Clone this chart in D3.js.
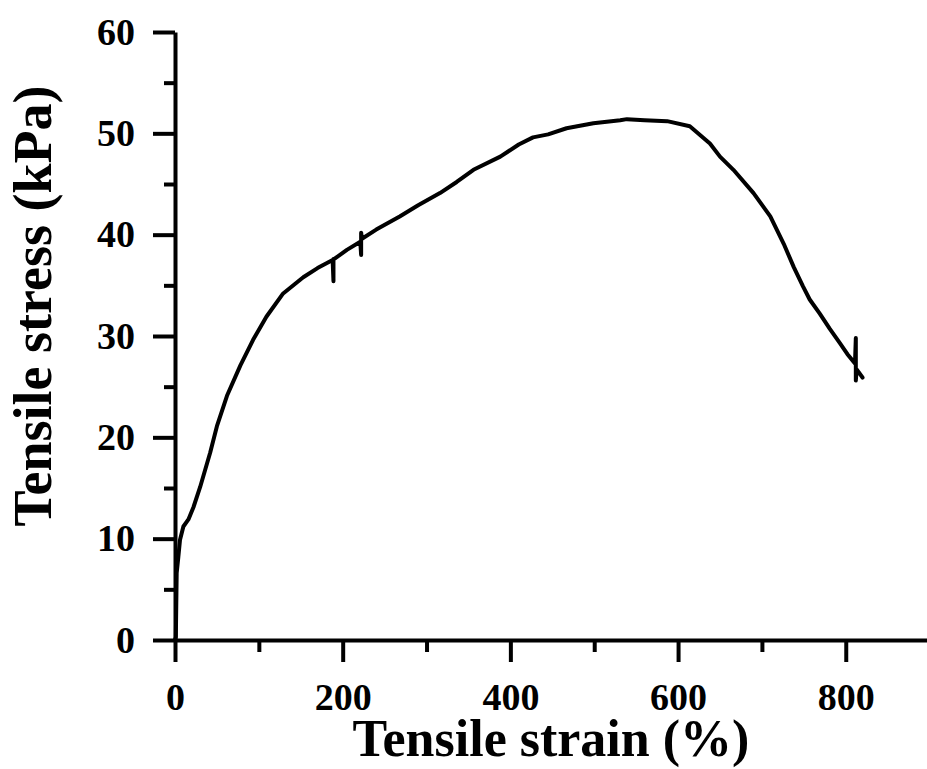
<!DOCTYPE html>
<html>
<head>
<meta charset="utf-8">
<script src="https://cdn.jsdelivr.net/npm/d3@7"></script>
<style>
  body { margin: 0; background: #fff; }
  svg { display: block; }
</style>
</head>
<body>
<svg id="chart"></svg>
<script>
// tensile test curve
const strain = [0, 1, 2, 4, 6, 10, 16, 22, 30, 42, 50, 62, 78, 93, 109, 129, 153, 170, 188, 189, 189, 190,
  205, 221, 222, 222, 223, 240, 268, 290, 316, 336, 356, 388, 410, 427, 445, 467, 499, 531, 539, 560, 587, 614,
  638, 650, 666, 690, 710, 726, 738, 749, 757, 769, 781, 793, 802, 811, 812, 812, 813, 820]
const stress = [0, 0.3, 6.6, 8.2, 9.9, 11.2, 11.9, 13.1, 15.1, 18.5, 21.1, 24.1, 27.1, 29.6, 31.9, 34.2, 35.8, 36.7, 37.5, 35.4, 37.6, 37.6,
  38.5, 39.3, 38.0, 40.2, 39.6, 40.5, 41.8, 42.9, 44.1, 45.2, 46.4, 47.7, 48.9, 49.6, 49.9, 50.5, 51.0, 51.3, 51.4, 51.3, 51.2, 50.7,
  49.0, 47.7, 46.4, 44.1, 41.8, 39.1, 36.8, 34.9, 33.6, 32.2, 30.7, 29.3, 28.2, 27.3, 29.8, 25.6, 26.7, 25.9]

const xMajor = [0, 200, 400, 600, 800]
const xMinor = [100, 300, 500, 700]
const yMajor = [0, 10, 20, 30, 40, 50, 60]
const yMinor = [5, 15, 25, 35, 45, 55]

const width = 927
const height = 769
const font = "'Liberation Serif', 'Times New Roman', serif"

const svg = d3.select("#chart")
    .attr("width", width)
    .attr("height", height);

// scales
const x = d3.scaleLinear().domain([0, 900]).range([175, 929.6]);
const y = d3.scaleLinear().domain([0, 60]).range([640, 32]);

// x axis
svg.append("g")
    .attr("transform", `translate(0, ${y(0)})`)
    .call(d3.axisBottom(x).tickValues(xMajor).tickSize(22).tickPadding(21).tickSizeOuter(0));

svg.append("g")
    .attr("transform", `translate(0, ${y(0)})`)
    .call(d3.axisBottom(x).tickValues(xMinor).tickSize(12).tickFormat("").tickSizeOuter(0))
    .select(".domain").remove();

// y axis
svg.append("g")
    .attr("transform", `translate(${x(0)}, 0)`)
    .call(d3.axisLeft(y).tickValues(yMajor).tickSize(22).tickPadding(18).tickSizeOuter(0));

svg.append("g")
    .attr("transform", `translate(${x(0)}, 0)`)
    .call(d3.axisLeft(y).tickValues(yMinor).tickSize(11).tickFormat("").tickSizeOuter(0))
    .select(".domain").remove();

svg.selectAll(".domain, .tick line")
    .attr("stroke", "#000")
    .attr("stroke-width", 4);

svg.selectAll(".tick text")
    .attr("fill", "#000")
    .style("font-family", font)
    .style("font-weight", "bold")
    .style("font-size", "38px");

// curve
const data = strain.map((d, i) => ({ x: d, y: stress[i] }))
const line = d3.line()
    .x(d => x(d.x))
    .y(d => y(d.y))
    .curve(d3.curveLinear);

svg.append("path")
    .datum(data)
    .attr("d", line)
    .attr("fill", "none")
    .attr("stroke", "#000")
    .attr("stroke-width", 4)
    .attr("stroke-linejoin", "round")
    .attr("stroke-linecap", "round");

// axis titles
svg.append("text")
    .attr("x", 551)
    .attr("y", 756)
    .attr("text-anchor", "middle")
    .style("font-family", font)
    .style("font-weight", "bold")
    .style("font-size", "52px")
    .text("Tensile strain (%)");

svg.append("text")
    .attr("transform", `translate(51, 306) rotate(-90)`)
    .attr("text-anchor", "middle")
    .style("font-family", font)
    .style("font-weight", "bold")
    .style("font-size", "54px")
    .text("Tensile stress (kPa)");
</script>
</body>
</html>
